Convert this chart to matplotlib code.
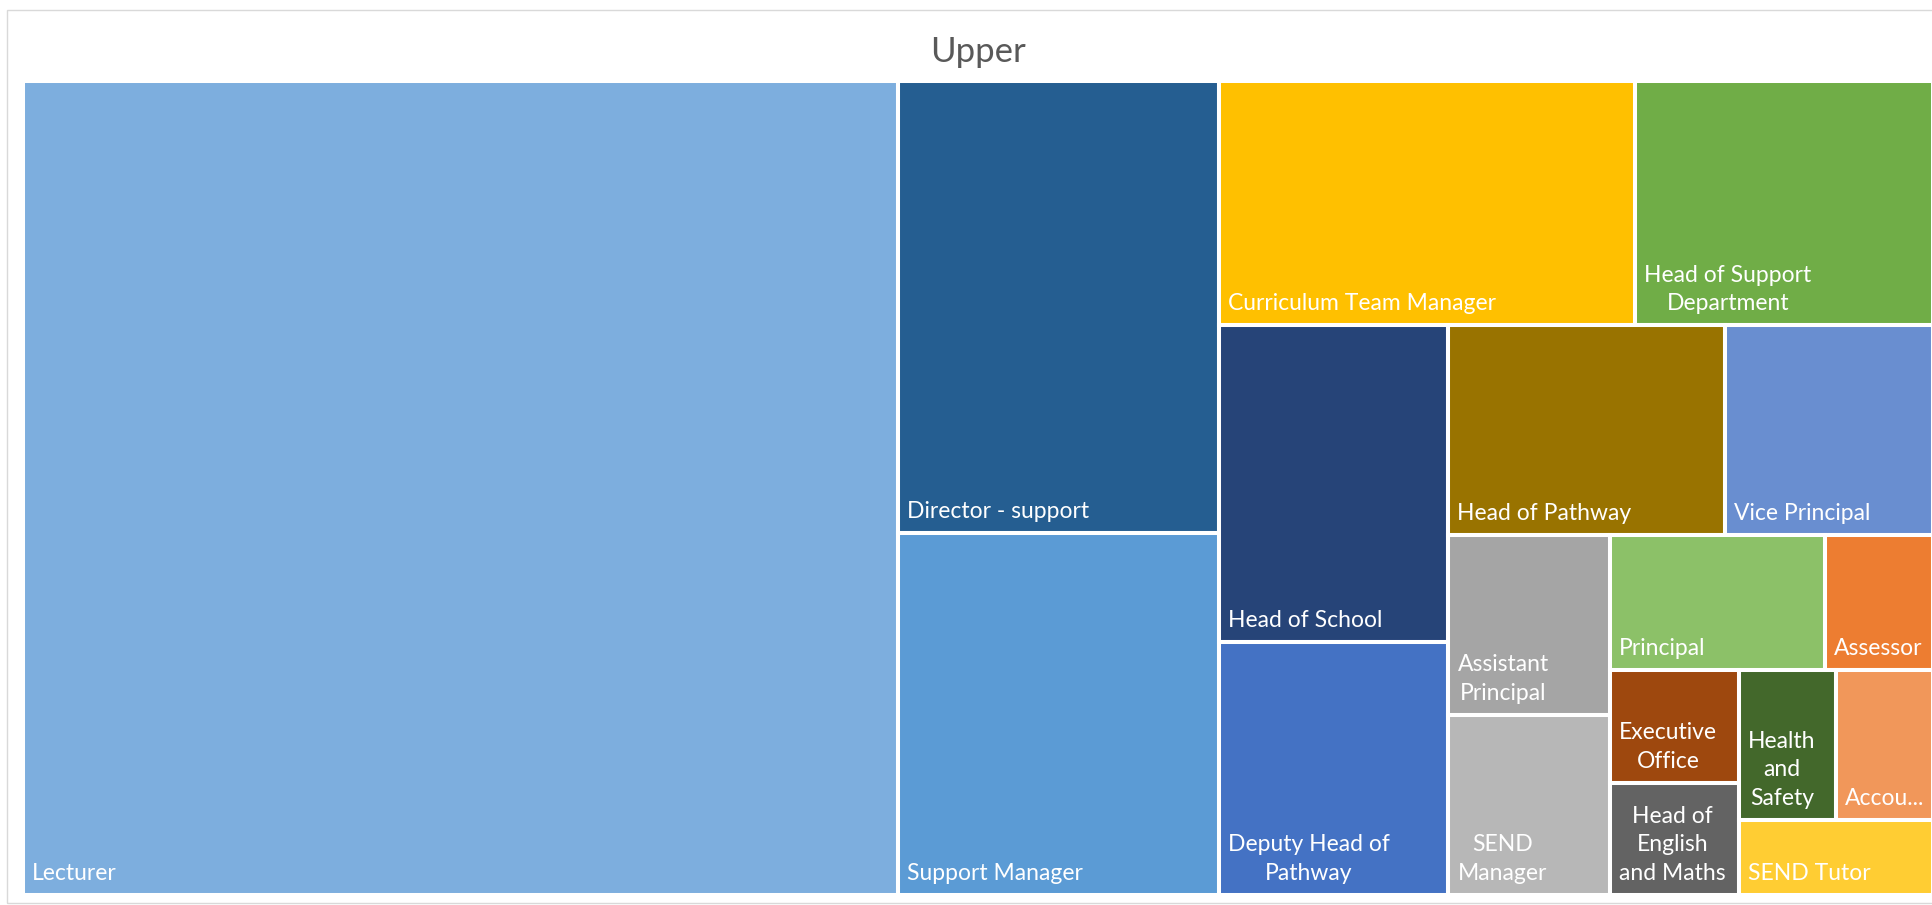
import matplotlib
matplotlib.use("Agg")
import matplotlib.pyplot as plt
from matplotlib.patches import Rectangle

# treemap data (counts per job role)
labels = ["Lecturer", "Director - support", "Support Manager", "Curriculum Team Manager",
          "Head of Support\nDepartment", "Head of School", "Deputy Head of\nPathway",
          "Head of Pathway", "Vice Principal", "Assistant\nPrincipal", "SEND\nManager",
          "Principal", "Assessor", "Executive\nOffice", "Head of\nEnglish\nand Maths",
          "Health\nand\nSafety", "Accou...", "SEND Tutor"]
values = [49, 10, 8, 7, 5, 5, 4, 4, 3, 2, 2, 2, 1, 1, 1, 1, 1, 1]
colors = ["#7DAEDE", "#255E91", "#5B9BD5", "#FFC000", "#70AD47", "#264478", "#4472C4",
          "#997300", "#698ED0", "#A5A5A5", "#B7B7B7", "#8CC168", "#ED7D31", "#9E480E",
          "#636363", "#43682B", "#F1975A", "#FFCD33"]
title = "Upper"


def avg_aspect(row, side):
    s = sum(row)
    t = s / side
    out = []
    for r in row:
        l = r / t
        out.append(max(l / t, t / l))
    return sum(out) / len(out)


def treemap(vals, x, y, w, h):
    tot = sum(vals)
    areas = [v * w * h / tot for v in vals]
    rects = []
    i = 0
    n = len(areas)
    while i < n:
        side = min(w, h)
        row = [areas[i]]
        j = i + 1
        while j < n and avg_aspect(row + [areas[j]], side) <= avg_aspect(row, side):
            row.append(areas[j])
            j += 1
        s = sum(row)
        if w >= h:
            cw = s / h
            yy = y
            for a in row:
                rh = a / cw
                rects.append((x, yy, cw, rh))
                yy += rh
            x += cw
            w -= cw
        else:
            rh = s / w
            xx = x
            for a in row:
                rw = a / rh
                rects.append((xx, y, rw, rh))
                xx += rw
            y += rh
            h -= rh
        i = j
    return rects


FW, FH = 1933, 905
fig = plt.figure(figsize=(FW / 100, FH / 100), dpi=100)
plt.rcParams['font.family'] = ['Lato', 'DejaVu Sans']

# plot area in pixels
px0, py0, pw, ph = 23, 81, 1910, 814
ax = fig.add_axes([px0 / FW, 1 - (py0 + ph) / FH, pw / FW, ph / FH])
ax.set_xlim(0, pw)
ax.set_ylim(ph, 0)
ax.axis("off")

rects = treemap(values, 0, 0, pw, ph)
for (x, y, w, h), lab, c in zip(rects, labels, colors):
    ax.add_patch(Rectangle((x, y), w, h, facecolor=c, edgecolor="white", linewidth=2.9))
    ax.text(x + 9, y + h - 11, lab, ha="left", va="bottom", multialignment="center",
            color="white", fontsize=16.5, linespacing=1.45)

fig.text(978 / FW, 1 - 62 / FH, title, ha="center", va="baseline", fontsize=25, color="#595959")

# chart border
fig.add_artist(Rectangle((7.5 / FW, 2 / FH), 1.1, 893 / FH, transform=fig.transFigure,
                         fill=False, edgecolor="#D9D9D9", linewidth=1))

fig.savefig("out.png", dpi=100)
